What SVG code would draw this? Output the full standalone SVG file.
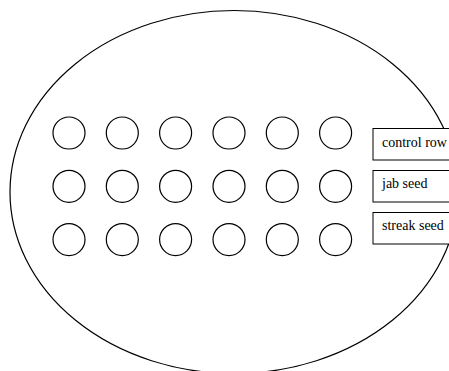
<svg xmlns="http://www.w3.org/2000/svg" width="449" height="371" viewBox="0 0 449 371">
<style>
.well{fill:#fff;stroke:#000;stroke-width:1.2}
.lbl rect{fill:#fff;stroke:#000;stroke-width:1}
.lbl text{font-family:"Liberation Serif","Times New Roman",serif;font-size:14px;fill:#000}
</style>
<rect width="449" height="371" fill="#fff"/>
<g id="plate"><ellipse cx="234" cy="192" rx="224" ry="181.5" fill="none" stroke="#000" stroke-width="1.2"/></g>
<g id="wells">
<g id="row1">
<circle class="well" cx="69" cy="133" r="16"/><circle class="well" cx="122.3" cy="133" r="16"/><circle class="well" cx="175.6" cy="133" r="16"/><circle class="well" cx="229" cy="133" r="16"/><circle class="well" cx="282.3" cy="133" r="16"/><circle class="well" cx="335.6" cy="133" r="16"/>
</g>
<g id="row2">
<circle class="well" cx="69" cy="186.3" r="16"/><circle class="well" cx="122.3" cy="186.3" r="16"/><circle class="well" cx="175.6" cy="186.3" r="16"/><circle class="well" cx="229" cy="186.3" r="16"/><circle class="well" cx="282.3" cy="186.3" r="16"/><circle class="well" cx="335.6" cy="186.3" r="16"/>
</g>
<g id="row3">
<circle class="well" cx="69" cy="239.6" r="16"/><circle class="well" cx="122.3" cy="239.6" r="16"/><circle class="well" cx="175.6" cy="239.6" r="16"/><circle class="well" cx="229" cy="239.6" r="16"/><circle class="well" cx="282.3" cy="239.6" r="16"/><circle class="well" cx="335.6" cy="239.6" r="16"/>
</g>
</g>
<g id="label-control" class="lbl"><rect x="373" y="128.5" width="90" height="31.5"/><text x="382" y="146.5">control row</text></g>
<g id="label-jab" class="lbl"><rect x="373" y="170.5" width="90" height="31.5"/><text x="382" y="188">jab seed</text></g>
<g id="label-streak" class="lbl"><rect x="373" y="212.5" width="90" height="31.5"/><text x="382" y="230">streak seed</text></g>
<g id="connectors"></g>
</svg>
